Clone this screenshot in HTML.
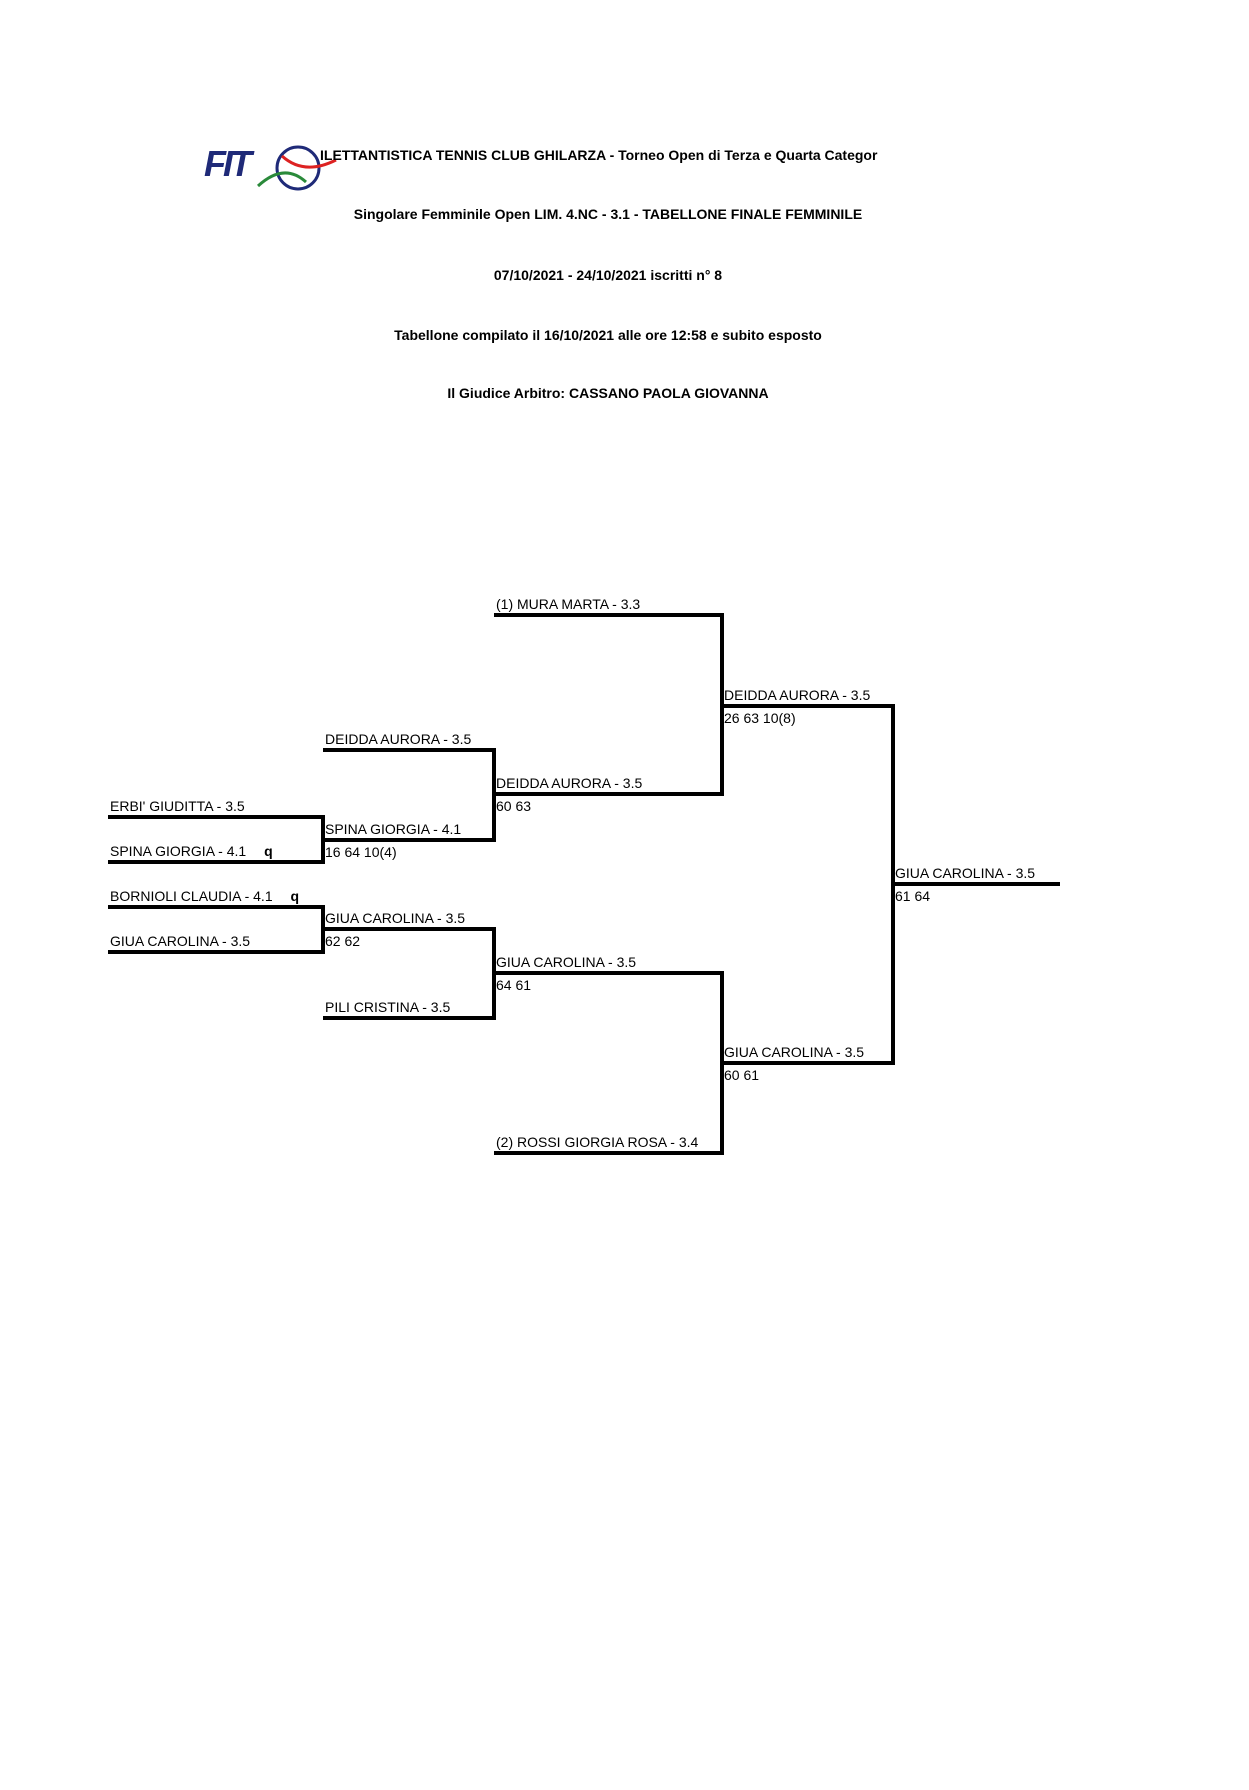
<!DOCTYPE html>
<html><head><meta charset="utf-8"><style>
body{margin:0;background:#fff;}
svg{display:block}
text{font-family:"Liberation Sans",sans-serif;fill:#000}
.h{font-size:14px;font-weight:bold}
.l{font-size:14px}
</style></head><body>
<svg width="1249" height="1790" viewBox="0 0 1249 1790" xmlns="http://www.w3.org/2000/svg">
<text x="204" y="176" font-size="36" font-weight="bold" font-style="italic" style="fill:#1f2a78;letter-spacing:-3px">FIT</text>
<circle cx="298" cy="168" r="21" fill="none" stroke="#1f2a78" stroke-width="3"/>
<path d="M282 156 Q304 176 336 160" fill="none" stroke="#d22" stroke-width="3"/>
<path d="M258 186 Q284 162 306 182" fill="none" stroke="#2a8a3a" stroke-width="3"/>
<text class="h" x="320" y="160">ILETTANTISTICA TENNIS CLUB GHILARZA - Torneo Open  di Terza e Quarta Categor</text>
<text class="h" x="608" y="219" text-anchor="middle">Singolare Femminile Open LIM. 4.NC - 3.1 - TABELLONE FINALE FEMMINILE</text>
<text class="h" x="608" y="280" text-anchor="middle">07/10/2021 - 24/10/2021   iscritti n° 8</text>
<text class="h" x="608" y="340" text-anchor="middle">Tabellone compilato il 16/10/2021 alle ore 12:58 e subito esposto</text>
<text class="h" x="608" y="398" text-anchor="middle">Il Giudice Arbitro: CASSANO PAOLA GIOVANNA</text>
<g fill="none" stroke="#000" stroke-width="4">
<path d="M108 817H323V862H108"/>
<path d="M108 907H323V952H108"/>
<path d="M323 750H494V840H323"/>
<path d="M323 929H494V1018H323"/>
<path d="M494 615H722V794H494"/>
<path d="M494 973H722V1153H494"/>
<path d="M722 706H893V1063H722"/>
<path d="M893 884H1060"/>
</g>
<g class="l">
<text x="110" y="811">ERBI' GIUDITTA - 3.5</text>
<text x="110" y="856">SPINA GIORGIA - 4.1 <tspan dx="14" font-weight="bold">q</tspan></text>
<text x="110" y="901">BORNIOLI CLAUDIA - 4.1 <tspan dx="14" font-weight="bold">q</tspan></text>
<text x="110" y="946">GIUA CAROLINA - 3.5</text>
<text x="325" y="744">DEIDDA AURORA - 3.5</text>
<text x="325" y="834">SPINA GIORGIA - 4.1</text>
<text x="325" y="857">16 64 10(4)</text>
<text x="325" y="923">GIUA CAROLINA - 3.5</text>
<text x="325" y="946">62 62</text>
<text x="325" y="1012">PILI CRISTINA - 3.5</text>
<text x="496" y="609">(1) MURA MARTA - 3.3</text>
<text x="496" y="788">DEIDDA AURORA - 3.5</text>
<text x="496" y="811">60 63</text>
<text x="496" y="967">GIUA CAROLINA - 3.5</text>
<text x="496" y="990">64 61</text>
<text x="496" y="1147">(2) ROSSI GIORGIA ROSA - 3.4</text>
<text x="724" y="700">DEIDDA AURORA - 3.5</text>
<text x="724" y="723">26 63 10(8)</text>
<text x="724" y="1057">GIUA CAROLINA - 3.5</text>
<text x="724" y="1080">60 61</text>
<text x="895" y="878">GIUA CAROLINA - 3.5</text>
<text x="895" y="901">61 64</text>
</g>
</svg>
</body></html>
